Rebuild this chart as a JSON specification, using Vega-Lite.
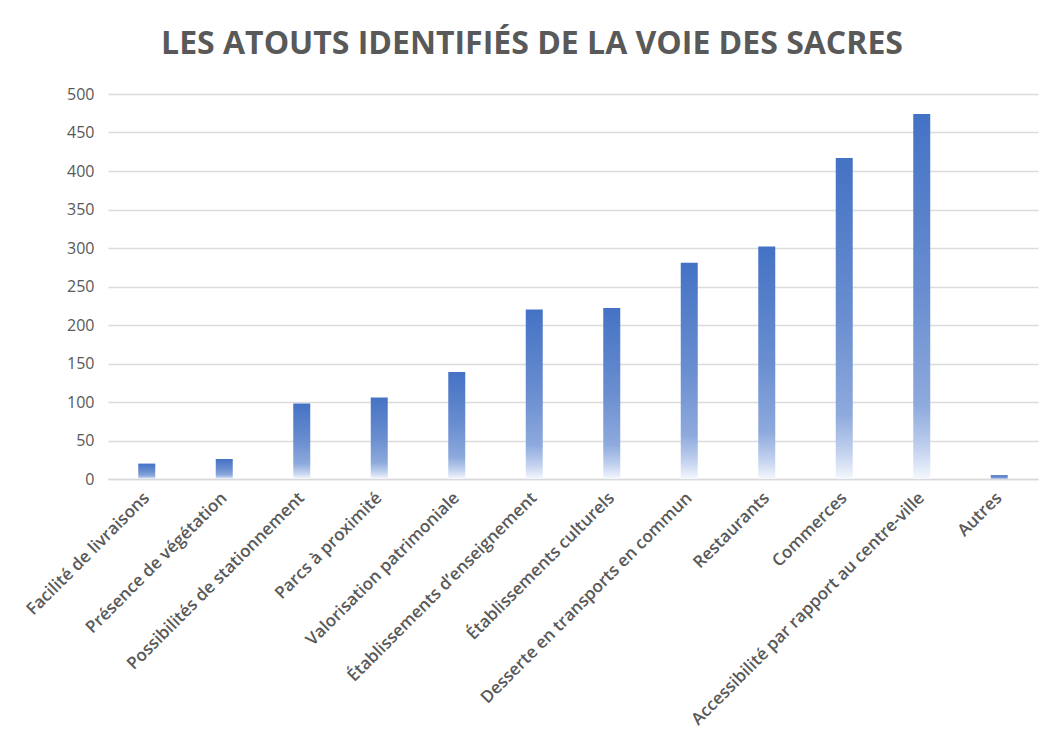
{
  "$schema": "https://vega.github.io/schema/vega-lite/v6.json",
  "width": 930,
  "height": 385,
  "autosize": {"type": "none"},
  "padding": {"left": 108, "top": 94, "right": 8, "bottom": 270},
  "background": "white",
  "title": {
    "text": "LES ATOUTS IDENTIFIÉS DE LA VOIE DES SACRES",
    "font": "Open Sans",
    "fontSize": 32,
    "fontWeight": "bold",
    "color": "#595959",
    "anchor": "middle",
    "dx": -41,
    "offset": 25
  },
  "data": {
    "values": [
      {"atout": "Facilité de livraisons", "n": 20},
      {"atout": "Présence de végétation", "n": 26},
      {"atout": "Possibilités de stationnement", "n": 98},
      {"atout": "Parcs à proximité", "n": 106},
      {"atout": "Valorisation patrimoniale", "n": 139},
      {"atout": "Établissements d’enseignement", "n": 220},
      {"atout": "Établissements culturels", "n": 222},
      {"atout": "Desserte en transports en commun", "n": 281},
      {"atout": "Restaurants", "n": 302},
      {"atout": "Commerces", "n": 417},
      {"atout": "Accessibilité par rapport au centre-ville", "n": 474},
      {"atout": "Autres", "n": 5}
    ]
  },
  "mark": {
    "type": "bar",
    "size": 17,
    "color": {
      "gradient": "linear",
      "x1": 0, "y1": 0, "x2": 0, "y2": 1,
      "stops": [
        {"offset": 0, "color": "#4472c4"},
        {"offset": 0.5, "color": "#6a8ed0"},
        {"offset": 0.8, "color": "#8eaadd"},
        {"offset": 0.92, "color": "#c3d2ef"},
        {"offset": 1, "color": "#f5f8fd"}
      ]
    }
  },
  "encoding": {
    "x": {
      "field": "atout",
      "type": "nominal",
      "sort": null,
      "title": null,
      "scale": {"paddingInner": 0, "paddingOuter": 0},
      "axis": {
        "labelAngle": -45,
        "labelAlign": "right",
        "labelBaseline": "middle",
        "labelFont": "Open Sans",
        "labelFontSize": 17,
        "labelFontWeight": 600,
        "labelColor": "#595959",
        "labelPadding": 16,
        "labelLimit": 0,
        "ticks": false,
        "domain": true,
        "domainColor": "#d9d9d9",
        "domainWidth": 1.5,
        "grid": false
      }
    },
    "y": {
      "field": "n",
      "type": "quantitative",
      "title": null,
      "scale": {"domain": [0, 500], "nice": false},
      "axis": {
        "values": [0, 50, 100, 150, 200, 250, 300, 350, 400, 450, 500],
        "labelFont": "Open Sans",
        "labelFontSize": 16,
        "labelColor": "#595959",
        "labelPadding": 14,
        "ticks": false,
        "domain": false,
        "grid": true,
        "gridColor": "#dcdcdc",
        "gridWidth": 1.5
      }
    }
  },
  "config": {
    "view": {"stroke": null}
  }
}
